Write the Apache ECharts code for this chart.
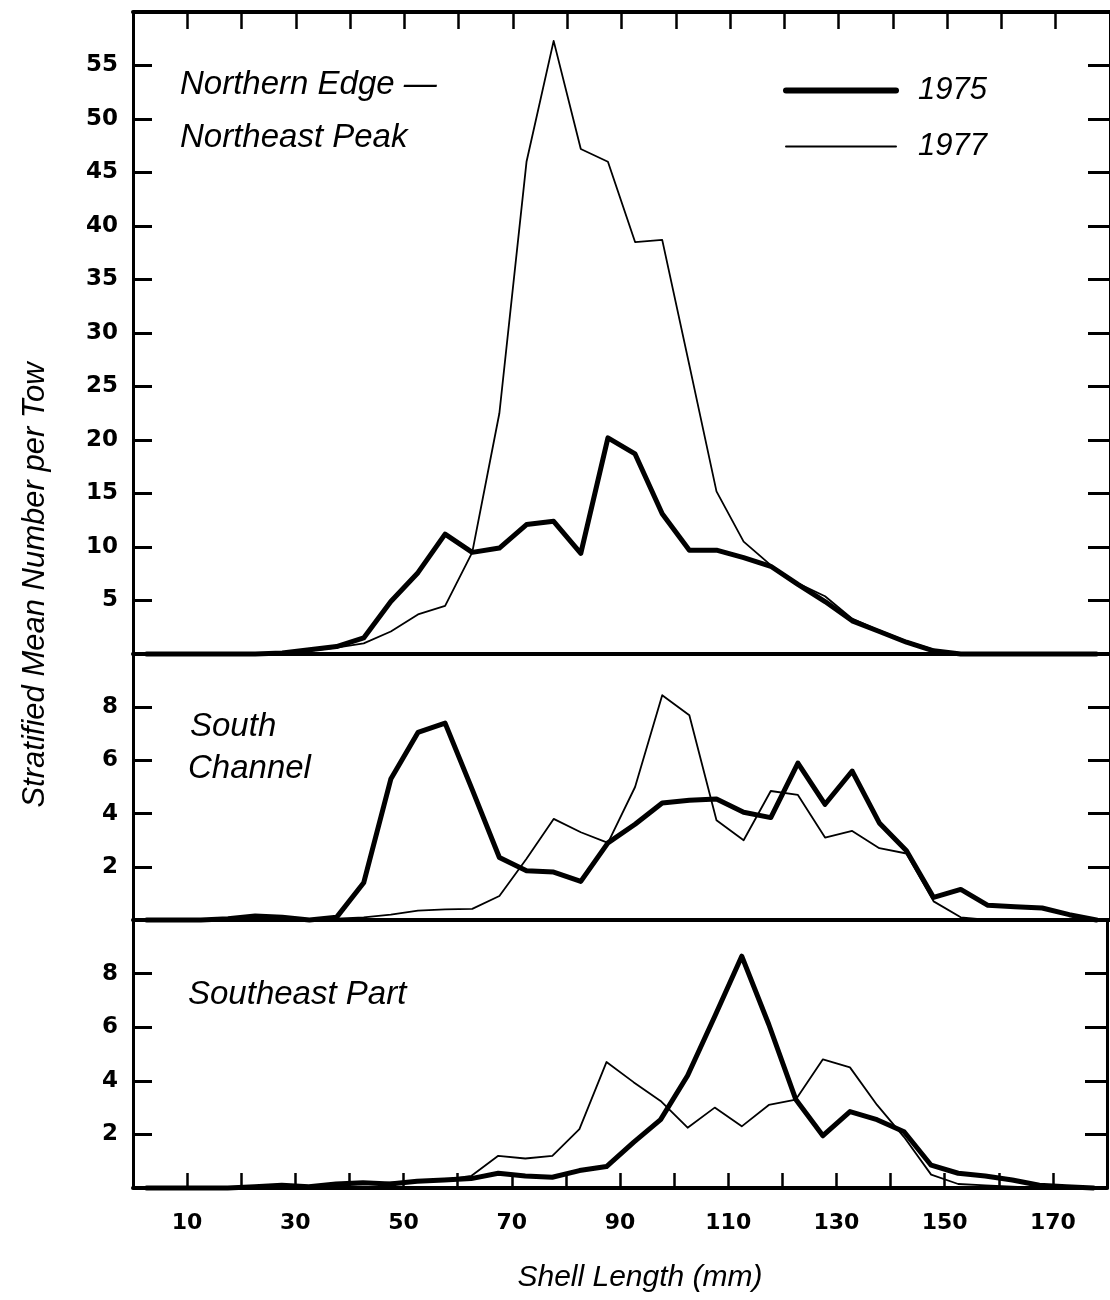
<!DOCTYPE html>
<html>
<head>
<meta charset="utf-8">
<script src="https://cdn.jsdelivr.net/npm/echarts@6/dist/echarts.min.js"></script>
<style>
  html, body { margin: 0; padding: 0; background: #fff; }
  #chart { width: 1110px; height: 1300px; }
</style>
</head>
<body>
<div id="chart"></div>
<script>
// Shell-length class midpoints (mm), 5 mm bins
const shellLength = [2.5, 7.5, 12.5, 17.5, 22.5, 27.5, 32.5, 37.5, 42.5, 47.5,
  52.5, 57.5, 62.5, 67.5, 72.5, 77.5, 82.5, 87.5, 92.5, 97.5,
  102.5, 107.5, 112.5, 117.5, 122.5, 127.5, 132.5, 137.5, 142.5, 147.5,
  152.5, 157.5, 162.5, 167.5, 172.5, 177.5];

// Stratified mean number per tow — Northern Edge / Northeast Peak
const northeast1975 = [0, 0, 0, 0, 0, 0.1, 0.4, 0.7, 1.5, 4.9,
  7.6, 11.2, 9.5, 9.9, 12.1, 12.4, 9.4, 20.2, 18.7, 13.1,
  9.7, 9.7, 9.0, 8.2, 6.5, 4.9, 3.1, 2.1, 1.1, 0.3,
  0, 0, 0, 0, 0, 0];
const northeast1977 = [0, 0, 0, 0, 0, 0.1, 0.3, 0.6, 1.0, 2.1,
  3.7, 4.5, 9.5, 22.5, 46.0, 57.3, 47.2, 46.0, 38.5, 38.7,
  27.0, 15.2, 10.5, 8.3, 6.6, 5.4, 3.3, 2.2, 1.2, 0.4,
  0, 0, 0, 0, 0, 0];

// South Channel
const southChannel1975 = [0, 0, 0, 0.05, 0.15, 0.1, 0, 0.1, 1.4, 5.3,
  7.05, 7.4, 4.9, 2.35, 1.85, 1.8, 1.45, 2.9, 3.6, 4.4,
  4.5, 4.55, 4.05, 3.85, 5.9, 4.35, 5.6, 3.65, 2.6, 0.85,
  1.15, 0.55, 0.5, 0.45, 0.2, 0];
const southChannel1977 = [0, 0, 0, 0, 0, 0, 0, 0.05, 0.1, 0.2,
  0.35, 0.4, 0.42, 0.9, 2.3, 3.8, 3.3, 2.9, 5.0, 8.45,
  7.7, 3.75, 3.0, 4.85, 4.7, 3.1, 3.35, 2.7, 2.5, 0.7,
  0.1, 0, 0, 0, 0, 0];

// Southeast Part
const southeast1975 = [0, 0, 0, 0, 0.05, 0.1, 0.05, 0.15, 0.2, 0.15,
  0.25, 0.3, 0.35, 0.55, 0.45, 0.4, 0.65, 0.8, 1.7, 2.55,
  4.2, 6.4, 8.65, 6.1, 3.3, 1.95, 2.85, 2.55, 2.1, 0.85,
  0.55, 0.45, 0.3, 0.1, 0.05, 0];
const southeast1977 = [0, 0, 0, 0, 0, 0, 0, 0.1, 0.15, 0.2,
  0.25, 0.3, 0.45, 1.2, 1.1, 1.2, 2.2, 4.7, 3.95, 3.25,
  2.25, 3.0, 2.3, 3.1, 3.3, 4.8, 4.5, 3.1, 1.9, 0.5,
  0.15, 0.1, 0.05, 0, 0, 0];

// Tick labels
const xTickLabels = [10, 30, 50, 70, 90, 110, 130, 150, 170];
const topTickLabels = [5, 10, 15, 20, 25, 30, 35, 40, 45, 50, 55];
const panelTickLabels = [2, 4, 6, 8];

const INK = '#000';
const ITALIC = '"Liberation Sans", Arial, sans-serif';
const NUMFONT = '"DejaVu Sans", sans-serif';

const pairs = (ys) => shellLength.map((x, i) => [x, ys[i]]);

const gridBox = { left: 133, right: -7 };
const grids = [
  Object.assign({ top: 12, height: 642 }, gridBox),
  Object.assign({ top: 654, height: 266 }, gridBox),
  Object.assign({ top: 920, height: 268 }, gridBox)
];

function xAxisDef(gridIndex, position, tickLen, withLabels) {
  return {
    type: 'value', gridIndex, position, min: 0, max: 180, interval: 10,
    axisLine: { show: true, onZero: false, lineStyle: { color: INK, width: 4 } },
    axisTick: { show: tickLen > 0, inside: true, length: tickLen, lineStyle: { color: INK, width: 2.5 } },
    axisLabel: {
      show: withLabels, margin: 24, color: INK, fontSize: 22, fontWeight: 'bold', fontFamily: NUMFONT,
      formatter: v => (xTickLabels.includes(v) ? String(v) : '')
    },
    splitLine: { show: false }
  };
}

function yAxisDef(gridIndex, position, max, interval, labels, tickLen) {
  const left = position === 'left';
  return {
    type: 'value', gridIndex, position, min: 0, max, interval,
    axisLine: { show: true, onZero: false, lineStyle: { color: INK, width: 3 } },
    axisTick: { show: true, inside: true, length: tickLen, lineStyle: { color: INK, width: 3 } },
    axisLabel: {
      show: left, margin: 15, color: INK, fontSize: 23, fontWeight: 'bold', fontFamily: NUMFONT,
      formatter: v => (labels.includes(v) ? String(v) : '')
    },
    splitLine: { show: false }
  };
}

function lineSeries(name, xi, yi, ys, width) {
  return {
    type: 'line', name, xAxisIndex: xi, yAxisIndex: yi, data: pairs(ys),
    symbol: 'none', smooth: false, clip: false,
    lineStyle: { color: INK, width, join: 'round', cap: 'round' },
    itemStyle: { color: INK },
    emphasis: { disabled: true }
  };
}

function label(text, x, y, extra) {
  return Object.assign({
    type: 'text', x, y, silent: true,
    style: { text, fill: INK, fontSize: 33, fontStyle: 'italic', fontFamily: ITALIC, verticalAlign: 'middle' }
  }, extra || {});
}

const chart = echarts.init(document.getElementById('chart'), null, { renderer: 'canvas' });
chart.setOption({
  backgroundColor: '#fff',
  animation: false,
  grid: grids,
  xAxis: [
    xAxisDef(0, 'bottom', 0, false),
    xAxisDef(0, 'top', 17, false),
    xAxisDef(1, 'bottom', 0, false),
    xAxisDef(2, 'bottom', 15, true)
  ],
  yAxis: [
    yAxisDef(0, 'left', 60, 5, topTickLabels, 19),
    yAxisDef(0, 'right', 60, 5, topTickLabels, 22),
    yAxisDef(1, 'left', 10, 2, panelTickLabels, 19),
    yAxisDef(1, 'right', 10, 2, panelTickLabels, 22),
    yAxisDef(2, 'left', 10, 2, panelTickLabels, 19),
    yAxisDef(2, 'right', 10, 2, panelTickLabels, 22)
  ],
  legend: {
    orient: 'vertical', left: 783, top: 75, padding: 0,
    itemWidth: 110, itemHeight: 30, itemGap: 25,
    selectedMode: false,
    itemStyle: { opacity: 0 },
    data: [
      { name: '1975', lineStyle: { width: 6, color: INK } },
      { name: '1977', lineStyle: { width: 2, color: INK } }
    ],
    textStyle: { color: INK, fontSize: 31, fontStyle: 'italic', fontFamily: ITALIC, padding: [0, 0, 0, 17] }
  },
  series: [
    lineSeries('1975', 0, 0, northeast1975, 5),
    lineSeries('1977', 0, 0, northeast1977, 1.8),
    lineSeries('1975', 2, 2, southChannel1975, 5),
    lineSeries('1977', 2, 2, southChannel1977, 1.8),
    lineSeries('1975', 3, 4, southeast1975, 5),
    lineSeries('1977', 3, 4, southeast1977, 1.8)
  ],
  graphic: [
    label('Northern Edge \u2014', 180, 85),
    label('Northeast Peak', 180, 138),
    label('South', 190, 727),
    label('Channel', 188, 769),
    label('Southeast Part', 188, 995),
    label('Stratified Mean Number per Tow', 35, 585, {
      rotation: Math.PI / 2,
      style: { text: 'Stratified Mean Number per Tow', fill: INK, fontSize: 31, fontStyle: 'italic',
        fontFamily: ITALIC, align: 'center', verticalAlign: 'middle' }
    }),
    label('Shell Length (mm)', 640, 1278, {
      style: { text: 'Shell Length (mm)', fill: INK, fontSize: 30, fontStyle: 'italic',
        fontFamily: ITALIC, align: 'center', verticalAlign: 'middle' }
    })
  ]
});
</script>
</body>
</html>
